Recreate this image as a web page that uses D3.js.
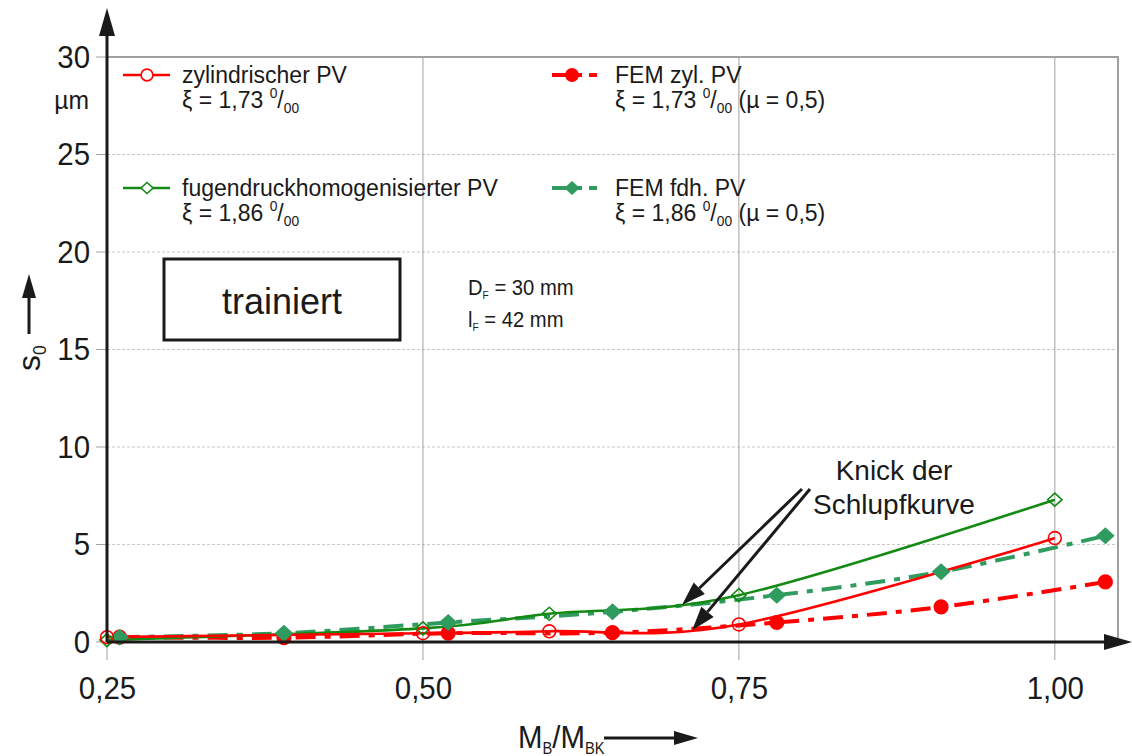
<!DOCTYPE html>
<html>
<head>
<meta charset="utf-8">
<script src="https://cdn.jsdelivr.net/npm/d3@7"></script>
<style>
  html, body { margin: 0; padding: 0; background: #fff; }
  svg text { font-family: "Liberation Sans", Arial, sans-serif; fill: #1a1a1a; }
</style>
</head>
<body>
<svg id="chart" width="1132" height="756"></svg>
<script>
// Measured points: M_B/M_BK against slip s0 in µm
const zylExp = [[0.25, 0.25], [0.50, 0.45], [0.60, 0.55], [0.75, 0.90], [1.00, 5.33]];
const fdhExp = [[0.25, 0.10], [0.50, 0.70], [0.60, 1.45], [0.75, 2.40], [1.00, 7.30]];
const zylFem = [[0.26, 0.25], [0.39, 0.22], [0.52, 0.45], [0.65, 0.48], [0.78, 1.00], [0.91, 1.80], [1.04, 3.08]];
const fdhFem = [[0.26, 0.25], [0.39, 0.45], [0.52, 1.00], [0.65, 1.55], [0.78, 2.40], [0.91, 3.60], [1.04, 5.45]];

const xTicks = [0.25, 0.50, 0.75, 1.00];
const xTickLabels = ["0,25", "0,50", "0,75", "1,00"];
const yTicks = [0, 5, 10, 15, 20, 25, 30];

const svg = d3.select("#chart");
const x = d3.scaleLinear().domain([0.25, 1.05]).range([107, 1118]);
const y = d3.scaleLinear().domain([0, 30]).range([642, 57]);

const RED = "#ff0000", GREEN = "#138a13", FEMGREEN = "#2f9b5f";
const DASHDOT = "20,9,6,9";
const SX = 0.92; // narrowed lettering of the tick labels

// places a text at (tx, ty), optionally narrowed horizontally
function label(parent, tx, ty, size, anchor, sx) {
  return parent.append("text")
    .attr("transform", `translate(${tx},${ty}) scale(${sx || 1},1)`)
    .attr("font-size", size).attr("text-anchor", anchor || "start");
}

// grid
const grid = svg.append("g");
grid.selectAll(".hg").data(yTicks.filter(d => d > 0 && d < 30)).join("line")
  .attr("x1", x(0.25)).attr("x2", x(1.05)).attr("y1", d => y(d)).attr("y2", d => y(d))
  .attr("stroke", "#c8c8c8").attr("stroke-width", 1).attr("stroke-dasharray", "3,2");
grid.selectAll(".vg").data(xTicks).join("line")
  .attr("x1", d => x(d)).attr("x2", d => x(d)).attr("y1", y(30)).attr("y2", y(0) + 18)
  .attr("stroke", "#a0a0a0").attr("stroke-width", 1);
grid.append("path")
  .attr("d", `M${x(0.25)},${y(30)}H${x(1.05)}V${y(0)}`)
  .attr("fill", "none").attr("stroke", "#a0a0a0").attr("stroke-width", 2);
grid.selectAll(".yt").data(yTicks).join("line")
  .attr("x1", x(0.25) - 11).attr("x2", x(0.25)).attr("y1", d => y(d)).attr("y2", d => y(d))
  .attr("stroke", "#a0a0a0").attr("stroke-width", 1);

// tick labels
const yAxis = svg.append("g").attr("transform", `translate(${x(0.25) - 17},0)`)
  .call(d3.axisLeft(y).tickValues(yTicks).tickSize(0).tickPadding(0).tickFormat(d3.format("d")));
yAxis.select(".domain").remove();
yAxis.selectAll("text").attr("font-size", 32).attr("fill", "#1a1a1a")
  .attr("font-family", "Liberation Sans, Arial, sans-serif")
  .attr("transform", `scale(${SX},1)`);

const xAxis = svg.append("g").attr("transform", `translate(0,${y(0) + 30})`)
  .call(d3.axisBottom(x).tickValues(xTicks).tickSize(0).tickPadding(0)
    .tickFormat((d, i) => xTickLabels[i]));
xAxis.select(".domain").remove();
xAxis.selectAll("text").attr("font-size", 32).attr("fill", "#1a1a1a")
  .attr("font-family", "Liberation Sans, Arial, sans-serif").attr("dy", "0.85em")
  .attr("transform", `scale(${SX},1)`);

label(svg, 89, 109, 26, "end", 0.95).text("µm");

// curves
const smooth = d3.line().x(d => x(d[0])).y(d => y(d[1])).curve(d3.curveCardinal.tension(0));
const plot = svg.append("g");
plot.append("path").datum(fdhFem).attr("d", smooth).attr("fill", "none")
  .attr("stroke", FEMGREEN).attr("stroke-width", 4).attr("stroke-dasharray", DASHDOT);
plot.append("path").datum(zylFem).attr("d", smooth).attr("fill", "none")
  .attr("stroke", RED).attr("stroke-width", 4).attr("stroke-dasharray", DASHDOT);
plot.append("path").datum(fdhExp).attr("d", smooth).attr("fill", "none")
  .attr("stroke", GREEN).attr("stroke-width", 2.6);
plot.append("path").datum(zylExp).attr("d", smooth).attr("fill", "none")
  .attr("stroke", RED).attr("stroke-width", 2.6);

const diamond = (s) => `M0,${-s}L${s * 1.1},0L0,${s}L${-s * 1.1},0Z`;
function markers(data, kind) {
  const g = plot.append("g");
  const sel = g.selectAll("path").data(data).join("path")
    .attr("transform", d => `translate(${x(d[0])},${y(d[1])})`);
  if (kind === "openCircle") sel.attr("d", d3.symbol(d3.symbolCircle, 130)).attr("fill", "none").attr("stroke", RED).attr("stroke-width", 1.6);
  if (kind === "openDiamond") sel.attr("d", diamond(6.5)).attr("fill", "none").attr("stroke", GREEN).attr("stroke-width", 1.6);
  if (kind === "dot") sel.attr("d", d3.symbol(d3.symbolCircle, 180)).attr("fill", RED);
  if (kind === "fullDiamond") sel.attr("d", diamond(8.5)).attr("fill", FEMGREEN);
}
markers(zylFem, "dot");
markers(fdhFem, "fullDiamond");
markers(fdhExp, "openDiamond");
markers(zylExp, "openCircle");

// axis lines with arrow heads
const axes = svg.append("g");
axes.append("line").attr("x1", x(0.25)).attr("x2", x(0.25)).attr("y1", y(0)).attr("y2", 30)
  .attr("stroke", "#1a1a1a").attr("stroke-width", 3);
axes.append("path").attr("d", `M${x(0.25)},8L${x(0.25) + 8},36L${x(0.25) - 8},36Z`).attr("fill", "#1a1a1a");
axes.append("line").attr("x1", x(0.25)).attr("x2", 1108).attr("y1", y(0)).attr("y2", y(0))
  .attr("stroke", "#1a1a1a").attr("stroke-width", 3);
axes.append("path").attr("d", `M1132,${y(0)}L1104,${y(0) - 8}L1104,${y(0) + 8}Z`).attr("fill", "#1a1a1a");

// legend
function permille(t, value, mu) {
  t.append("tspan").text(`ξ = ${value} `);
  t.append("tspan").attr("font-size", "0.6em").attr("dy", -10).text("0");
  t.append("tspan").attr("dy", 10).text("/");
  t.append("tspan").attr("font-size", "0.6em").attr("dy", 5).text("00");
  if (mu) t.append("tspan").attr("dy", -5).text(" (µ = 0,5)");
}
const legend = svg.append("g");
function legendEntry(lx, ly, color, width, dash, kind, name, value, mu) {
  legend.append("line").attr("x1", lx).attr("x2", lx + 47).attr("y1", ly).attr("y2", ly)
    .attr("stroke", color).attr("stroke-width", width).attr("stroke-dasharray", dash);
  const m = legend.append("path").attr("transform", `translate(${lx + (mu ? 20 : 24)},${ly})`);
  if (kind === "openCircle") m.attr("d", d3.symbol(d3.symbolCircle, 110)).attr("fill", "#fff").attr("stroke", RED).attr("stroke-width", 1.6);
  if (kind === "openDiamond") m.attr("d", diamond(5.5)).attr("fill", "#fff").attr("stroke", GREEN).attr("stroke-width", 1.6);
  if (kind === "dot") m.attr("d", d3.symbol(d3.symbolCircle, 150)).attr("fill", RED);
  if (kind === "fullDiamond") m.attr("d", diamond(7)).attr("fill", FEMGREEN);
  const tx = lx + (mu ? 63 : 59);
  label(legend, tx, ly + 8, 23, "start", 1.0).text(name);
  permille(label(legend, tx, ly + 33, 23, "start", 1.0), value, mu);
}
legendEntry(123, 75, RED, 2.6, null, "openCircle", "zylindrischer PV", "1,73", false);
legendEntry(552, 75, RED, 4, "30,7,8,100", "dot", "FEM zyl. PV", "1,73", true);
legendEntry(123, 188, GREEN, 2.6, null, "openDiamond", "fugendruckhomogenisierter PV", "1,86", false);
legendEntry(552, 188, FEMGREEN, 4, "30,7,8,100", "fullDiamond", "FEM fdh. PV", "1,86", true);

// "trainiert" box
svg.append("rect").attr("x", 164).attr("y", 259).attr("width", 236).attr("height", 81)
  .attr("fill", "#fff").attr("stroke", "#1a1a1a").attr("stroke-width", 3);
label(svg, 282, 314, 36, "middle").text("trainiert");

// joint dimensions
const d1 = label(svg, 468, 295, 22, "start", 0.92);
d1.append("tspan").text("D");
d1.append("tspan").attr("font-size", "0.5em").attr("dy", 4).text("F");
d1.append("tspan").attr("dy", -4).text(" = 30 mm");
const d2 = label(svg, 468, 327, 22, "start", 0.92);
d2.append("tspan").text("l");
d2.append("tspan").attr("font-size", "0.5em").attr("dy", 4).text("F");
d2.append("tspan").attr("dy", -4).text(" = 42 mm");

// annotation
label(svg, 894, 480, 28, "middle").text("Knick der");
label(svg, 894, 514, 28, "middle").text("Schlupfkurve");
function arrow(x1, y1, x2, y2) {
  const a = Math.atan2(y2 - y1, x2 - x1), L = 24, W = 8;
  const bx = x2 - L * Math.cos(a), by = y2 - L * Math.sin(a);
  svg.append("line").attr("x1", x1).attr("y1", y1).attr("x2", bx).attr("y2", by)
    .attr("stroke", "#1a1a1a").attr("stroke-width", 3);
  svg.append("path").attr("d",
    `M${x2},${y2}L${bx + W * Math.sin(a)},${by - W * Math.cos(a)}L${bx - W * Math.sin(a)},${by + W * Math.cos(a)}Z`)
    .attr("fill", "#1a1a1a");
}
arrow(802, 489, x(0.705), y(1.9));
arrow(810, 489, x(0.713), y(0.6));

// axis titles
const yl = svg.append("text").attr("transform", "translate(40,358) rotate(-90)")
  .attr("text-anchor", "middle").attr("font-size", 32);
yl.append("tspan").text("s");
yl.append("tspan").attr("font-size", "0.55em").attr("dy", 6).text("0");
svg.append("line").attr("x1", 29).attr("x2", 29).attr("y1", 334).attr("y2", 296)
  .attr("stroke", "#1a1a1a").attr("stroke-width", 3);
svg.append("path").attr("d", "M29,274L36,298L22,298Z").attr("fill", "#1a1a1a");

const xl = label(svg, 518, 748, 32, "start", SX);
xl.append("tspan").text("M");
xl.append("tspan").attr("font-size", "0.5em").attr("dy", 6).text("B");
xl.append("tspan").attr("dy", -6).text("/M");
xl.append("tspan").attr("font-size", "0.5em").attr("dy", 6).text("BK");
svg.append("line").attr("x1", 604).attr("x2", 676).attr("y1", 738).attr("y2", 738)
  .attr("stroke", "#1a1a1a").attr("stroke-width", 3);
svg.append("path").attr("d", "M698,738L674,731L674,745Z").attr("fill", "#1a1a1a");
</script>
</body>
</html>
